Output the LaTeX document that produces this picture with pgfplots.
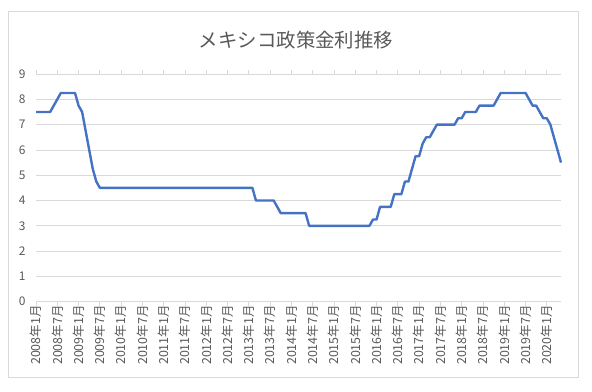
\documentclass[border=0pt]{standalone}
\usepackage{fontspec}
\setmainfont{Noto Sans CJK JP}
\usepackage{pgfplots}
\pgfplotsset{compat=1.18}
\definecolor{txt}{HTML}{595959}
\definecolor{grd}{HTML}{D9D9D9}
\definecolor{ln}{HTML}{4472C4}
\begin{document}
\begin{tikzpicture}
\useasboundingbox (0,0) rectangle (592bp,392bp);
\draw[grd, line width=0.75bp] (8bp,14.5bp) rectangle (578bp,381bp);
\begin{axis}[
  at={(36bp,90.3bp)}, anchor=south west,
  scale only axis, width=525bp, height=227.7bp,
  xmin=0, xmax=148, ymin=0, ymax=9,
  axis line style={draw=none},
  ytick={0,1,...,9},
  ymajorgrids, grid style={grd, line width=0.75bp},
  ytick style={draw=none},
  xtick={0,6,...,144},
  xticklabels={2008年1月,2008年7月,2009年1月,2009年7月,2010年1月,2010年7月,2011年1月,2011年7月,2012年1月,2012年7月,2013年1月,2013年7月,2014年1月,2014年7月,2015年1月,2015年7月,2016年1月,2016年7月,2017年1月,2017年7月,2018年1月,2018年7月,2019年1月,2019年7月,2020年1月},
  x tick style={grd, line width=0.75bp},
  tick align=outside, major tick length=4bp,
  xticklabel style={rotate=90, anchor=east, font=\fontsize{12.5}{13}\selectfont, text=txt, inner sep=1bp, xshift=1.5bp},
  yticklabel style={font=\fontsize{12}{13}\selectfont, text=txt, xshift=-3bp},
  /pgf/number format/assume math mode=true,
  clip=false,
]
\addplot[ln, line width=2.4bp, line join=round] coordinates {
(0,7.5)(4,7.5)(5,7.75)(6,8.0)(7,8.25)(11,8.25)(12,7.75)(13,7.5)(14,6.75)(15,6.0)(16,5.25)(17,4.75)(18,4.5)
(61,4.5)(62,4.0)(67,4.0)(68,3.75)(69,3.5)(76,3.5)(77,3.0)(94,3.0)(95,3.25)(96,3.25)(97,3.75)(100,3.75)
(101,4.25)(103,4.25)(104,4.75)(105,4.75)(106,5.25)(107,5.75)(108,5.75)(109,6.25)(110,6.5)(111,6.5)(112,6.75)
(113,7.0)(118,7.0)(119,7.25)(120,7.25)(121,7.5)(124,7.5)(125,7.75)(129,7.75)(130,8.0)(131,8.25)(138,8.25)
(139,8.0)(140,7.75)(141,7.75)(142,7.5)(143,7.25)(144,7.25)(145,7.0)(146,6.5)(147,6.0)(148,5.5)
};
\draw[grd, line width=0.75bp] (axis cs:0,0) -- (axis cs:148,0);
\end{axis}
\node[text=txt, font=\fontsize{19.5}{21}\selectfont] at (296bp,352bp) {メキシコ政策金利推移};
\end{tikzpicture}
\end{document}
